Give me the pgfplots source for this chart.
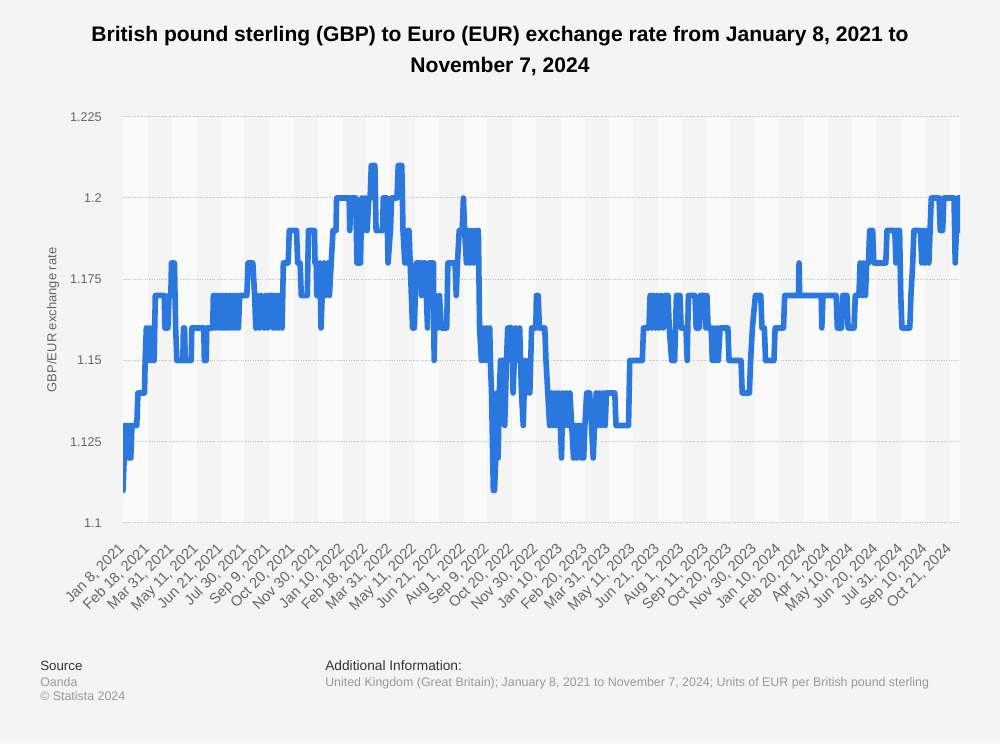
\documentclass[border=0pt]{standalone}
\usepackage{pgfplots}
\usepackage{pgfplotstable}
\pgfplotsset{compat=1.18}
\usepackage{fontspec}
\setmainfont{Liberation Sans}
\definecolor{bg}{HTML}{F4F4F4}
\definecolor{stripe}{HTML}{FAFAFA}
\definecolor{lineblue}{HTML}{2A77DD}
\definecolor{txt}{HTML}{666666}
\definecolor{gridc}{HTML}{C4C4C4}
\definecolor{foot}{HTML}{999999}

\pgfplotstableread{
day val
0 1.11
2 1.12
3 1.13
5 1.12
7 1.13
9 1.12
11 1.13
13 1.12
15 1.13
23 1.13
25 1.14
36 1.14
37 1.15
39 1.16
42 1.15
44 1.16
47 1.15
49 1.16
52 1.15
54 1.17
69 1.17
70 1.16
75 1.16
77 1.17
80 1.17
81 1.18
86 1.18
88 1.16
90 1.15
100 1.15
101 1.16
103 1.16
104 1.15
114 1.15
115 1.16
135 1.16
136 1.15
139 1.15
140 1.16
150 1.16
151 1.17
153 1.17
155 1.16
158 1.17
161 1.16
163 1.17
166 1.16
168 1.17
171 1.16
173 1.17
176 1.16
179 1.17
182 1.16
184 1.17
187 1.16
190 1.17
193 1.16
195 1.17
207 1.17
209 1.18
217 1.18
220 1.17
222 1.16
224 1.17
228 1.16
231 1.17
236 1.16
239 1.17
242 1.16
245 1.17
250 1.17
251 1.16
254 1.17
256 1.16
259 1.17
261 1.16
264 1.17
266 1.16
268 1.18
276 1.18
278 1.19
290 1.19
292 1.18
296 1.18
298 1.17
308 1.17
310 1.19
320 1.19
321 1.18
323 1.18
324 1.17
328 1.17
329 1.18
331 1.16
333 1.17
336 1.18
339 1.17
342 1.18
345 1.17
348 1.18
351 1.19
356 1.19
357 1.20
378 1.20
379 1.19
381 1.20
389 1.20
391 1.18
397 1.18
399 1.20
402 1.19
405 1.20
408 1.19
411 1.20
413 1.20
415 1.21
421 1.21
423 1.19
434 1.19
435 1.20
441 1.20
443 1.18
447 1.19
449 1.20
458 1.20
460 1.21
466 1.21
468 1.19
471 1.18
473 1.19
475 1.18
478 1.19
480 1.18
482 1.17
484 1.16
487 1.16
490 1.18
497 1.18
499 1.17
501 1.18
505 1.18
507 1.17
509 1.16
511 1.18
519 1.18
520 1.15
522 1.17
526 1.16
529 1.17
532 1.16
541 1.16
543 1.18
555 1.18
557 1.17
559 1.18
562 1.19
567 1.19
569 1.20
571 1.19
574 1.18
577 1.19
580 1.18
583 1.19
586 1.18
589 1.19
591 1.18
594 1.19
596 1.16
599 1.15
602 1.16
605 1.15
608 1.16
611 1.15
613 1.16
614 1.15
616 1.14
619 1.11
621 1.11
623 1.12
625 1.14
627 1.12
629 1.14
631 1.15
636 1.15
638 1.13
641 1.15
643 1.16
650 1.16
652 1.14
654 1.15
656 1.16
660 1.15
663 1.16
666 1.14
669 1.13
672 1.15
675 1.14
678 1.15
680 1.14
683 1.16
690 1.16
691 1.17
694 1.17
696 1.16
705 1.16
707 1.15
710 1.14
713 1.13
716 1.14
719 1.13
722 1.14
725 1.13
728 1.14
731 1.13
733 1.12
735 1.14
738 1.13
741 1.14
744 1.13
747 1.14
750 1.13
753 1.12
756 1.13
758 1.12
760 1.13
763 1.13
766 1.12
768 1.13
770 1.12
772 1.13
775 1.14
780 1.14
783 1.13
786 1.12
788 1.13
791 1.14
794 1.13
797 1.14
800 1.13
803 1.14
806 1.13
808 1.14
822 1.14
824 1.13
845 1.13
847 1.15
868 1.15
870 1.16
879 1.16
881 1.17
884 1.16
886 1.17
890 1.16
892 1.17
896 1.16
899 1.17
903 1.16
906 1.17
911 1.17
913 1.16
917 1.15
920 1.15
922 1.15
925 1.17
931 1.17
933 1.16
941 1.16
943 1.15
945 1.17
956 1.17
958 1.16
963 1.16
965 1.17
972 1.17
974 1.16
976 1.17
978 1.16
983 1.16
985 1.15
987 1.16
990 1.15
993 1.16
995 1.15
998 1.16
1011 1.16
1013 1.15
1033 1.15
1035 1.14
1047 1.14
1049 1.15
1052 1.16
1057 1.17
1066 1.17
1068 1.16
1072 1.16
1074 1.15
1088 1.15
1090 1.16
1104 1.16
1106 1.17
1129 1.17
1130 1.18
1131 1.17
1167 1.17
1168 1.16
1170 1.17
1192 1.17
1194 1.16
1201 1.16
1203 1.17
1210 1.17
1212 1.16
1222 1.16
1224 1.17
1230 1.17
1232 1.18
1236 1.17
1238 1.18
1241 1.17
1243 1.18
1246 1.18
1248 1.19
1253 1.19
1255 1.18
1275 1.18
1277 1.19
1290 1.19
1292 1.18
1294 1.19
1298 1.19
1300 1.17
1302 1.16
1315 1.16
1317 1.17
1320 1.18
1322 1.19
1333 1.19
1335 1.18
1338 1.19
1341 1.18
1344 1.19
1347 1.18
1349 1.19
1351 1.20
1364 1.20
1366 1.19
1370 1.19
1372 1.20
1389 1.20
1391 1.18
1393 1.19
1395 1.20
1398 1.20
1399 1.19
}\gbpeur

\begin{document}
\begin{tikzpicture}
\begin{axis}[
  at={(92.25pt,165pt)}, anchor=south west,
  scale only axis, width=627.75pt, height=304.7pt,
  set layers,
  xmin=0, xmax=1399, ymin=1.1, ymax=1.225,
  axis line style={draw=none},
  major tick length=0pt,
  ytick={1.1,1.125,1.15,1.175,1.2,1.225},
  yticklabels={1.1,1.125,1.15,1.175,1.2,1.225},
  ymajorgrids,
  grid style={gridc, line width=0.75pt, dash pattern=on 0.9pt off 0.9pt},
  xtick={0,41,82,123,164,203,244,285,326,367,406,447,488,529,570,609,650,691,732,773,812,853,894,935,976,1015,1056,1097,1138,1179,1218,1259,1300,1341,1382},
  xticklabels={{Jan 8, 2021},{Feb 18, 2021},{Mar 31, 2021},{May 11, 2021},{Jun 21, 2021},{Jul 30, 2021},{Sep 9, 2021},{Oct 20, 2021},{Nov 30, 2021},{Jan 10, 2022},{Feb 18, 2022},{Mar 31, 2022},{May 11, 2022},{Jun 21, 2022},{Aug 1, 2022},{Sep 9, 2022},{Oct 20, 2022},{Nov 30, 2022},{Jan 10, 2023},{Feb 20, 2023},{Mar 31, 2023},{May 11, 2023},{Jun 21, 2023},{Aug 1, 2023},{Sep 11, 2023},{Oct 20, 2023},{Nov 30, 2023},{Jan 10, 2024},{Feb 20, 2024},{Apr 1, 2024},{May 10, 2024},{Jun 20, 2024},{Jul 31, 2024},{Sep 10, 2024},{Oct 21, 2024}},
  xticklabel shift=14pt,
  xticklabel style={rotate=45, anchor=north east, inner sep=0pt, xshift=-2.65pt, yshift=2.65pt, font=\fontsize{11}{12}\selectfont, text=txt},
  yticklabel shift=15.75pt,
  yticklabel style={anchor=east, inner sep=0pt, font=\fontsize{9.5}{11}\selectfont, text=txt},
  ylabel={GBP/EUR exchange rate},
  ylabel style={at={(axis description cs:-0.0836,0.5)}, anchor=center, inner sep=0pt, font=\fontsize{9.75}{11}\selectfont, text=txt},
]
\begin{pgfonlayer}{axis background}
\fill[bg] (rel axis cs:-0.14695,-0.54152) rectangle (rel axis cs:1.04779,1.28733);
\fill[stripe] (axis cs:0,1.1) rectangle (axis cs:41,1.225);
\fill[stripe] (axis cs:82,1.1) rectangle (axis cs:123,1.225);
\fill[stripe] (axis cs:164,1.1) rectangle (axis cs:203,1.225);
\fill[stripe] (axis cs:244,1.1) rectangle (axis cs:285,1.225);
\fill[stripe] (axis cs:326,1.1) rectangle (axis cs:367,1.225);
\fill[stripe] (axis cs:406,1.1) rectangle (axis cs:447,1.225);
\fill[stripe] (axis cs:488,1.1) rectangle (axis cs:529,1.225);
\fill[stripe] (axis cs:570,1.1) rectangle (axis cs:609,1.225);
\fill[stripe] (axis cs:650,1.1) rectangle (axis cs:691,1.225);
\fill[stripe] (axis cs:732,1.1) rectangle (axis cs:773,1.225);
\fill[stripe] (axis cs:812,1.1) rectangle (axis cs:853,1.225);
\fill[stripe] (axis cs:894,1.1) rectangle (axis cs:935,1.225);
\fill[stripe] (axis cs:976,1.1) rectangle (axis cs:1015,1.225);
\fill[stripe] (axis cs:1056,1.1) rectangle (axis cs:1097,1.225);
\fill[stripe] (axis cs:1138,1.1) rectangle (axis cs:1179,1.225);
\fill[stripe] (axis cs:1218,1.1) rectangle (axis cs:1259,1.225);
\fill[stripe] (axis cs:1300,1.1) rectangle (axis cs:1341,1.225);
\fill[stripe] (axis cs:1382,1.1) rectangle (axis cs:1399,1.225);
\end{pgfonlayer}
\addplot[lineblue, line width=4.2pt, line join=round, line cap=round] table[x=day, y=val] {\gbpeur};
\end{axis}
\path (0,0) rectangle (750pt,557.25pt);
\node[anchor=base, font=\bfseries\fontsize{15.8}{18}\selectfont] at (375pt,525.75pt) {British pound sterling (GBP) to Euro (EUR) exchange rate from January 8, 2021 to};
\node[anchor=base, font=\bfseries\fontsize{15.8}{18}\selectfont] at (375pt,502.5pt) {November 7, 2024};
\node[anchor=base west, inner sep=0pt, font=\fontsize{10}{12}\selectfont, text=black!80] at (30pt,54.75pt) {Source};
\node[anchor=base west, inner sep=0pt, font=\fontsize{9.3}{10}\selectfont, text=foot] at (30pt,42pt) {Oanda};
\node[anchor=base west, inner sep=0pt, font=\fontsize{9.3}{10}\selectfont, text=foot] at (30pt,31.5pt) {© Statista 2024};
\node[anchor=base west, inner sep=0pt, font=\fontsize{10.3}{12}\selectfont, text=black!80] at (243.75pt,54.75pt) {Additional Information:};
\node[anchor=base west, inner sep=0pt, font=\fontsize{9.3}{10}\selectfont, text=foot] at (243.75pt,42pt) {United Kingdom (Great Britain); January 8, 2021 to November 7, 2024; Units of EUR per British pound sterling};
\end{tikzpicture}
\end{document}
